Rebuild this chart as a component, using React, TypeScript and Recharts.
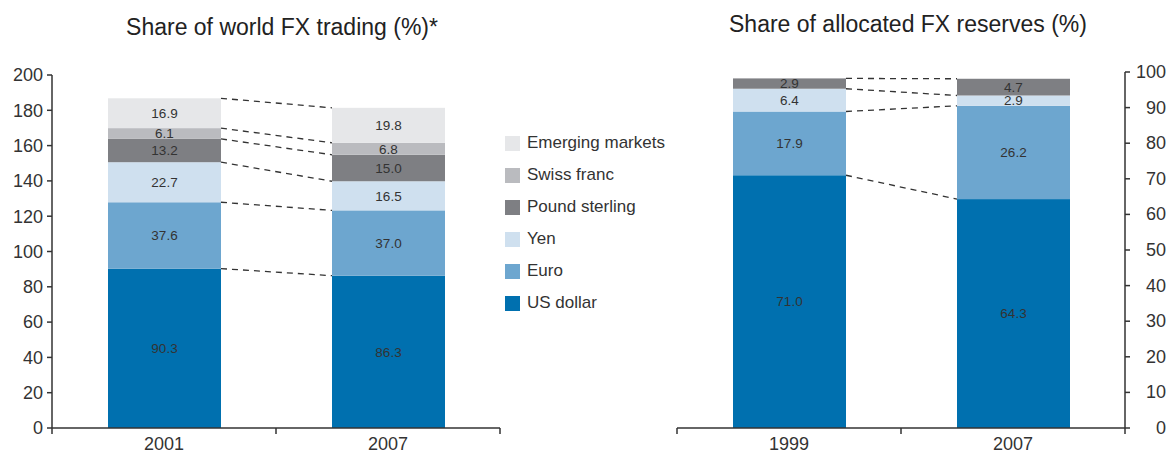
import { Bar, BarChart, LabelList, XAxis, YAxis } from "recharts"

// share of world FX trading, sums to 200 (two currencies per trade)
const tradingYears = ["2001", "2007"]
const tradingUsd = [90.3, 86.3]
const tradingEuro = [37.6, 37.0]
const tradingYen = [22.7, 16.5]
const tradingPound = [13.2, 15.0]
const tradingSwiss = [6.1, 6.8]
const tradingEmerging = [16.9, 19.8]

// share of allocated FX reserves
const reserveYears = ["1999", "2007"]
const reserveUsd = [71.0, 64.3]
const reserveEuro = [17.9, 26.2]
const reserveYen = [6.4, 2.9]
const reservePound = [2.9, 4.7]

const tradingTicks = [0, 20, 40, 60, 80, 100, 120, 140, 160, 180, 200]
const reserveTicks = [0, 10, 20, 30, 40, 50, 60, 70, 80, 90, 100]

const series = [
  { key: "usd", name: "US dollar", color: "#0070af" },
  { key: "euro", name: "Euro", color: "#6da6cf" },
  { key: "yen", name: "Yen", color: "#cfe0ef" },
  { key: "pound", name: "Pound sterling", color: "#7e7f83" },
  { key: "swiss", name: "Swiss franc", color: "#babbbf" },
  { key: "emerging", name: "Emerging markets", color: "#e6e7e9" },
]

const tradingData = tradingYears.map((year, i) => ({
  year,
  usd: tradingUsd[i],
  euro: tradingEuro[i],
  yen: tradingYen[i],
  pound: tradingPound[i],
  swiss: tradingSwiss[i],
  emerging: tradingEmerging[i],
}))

const reserveData = reserveYears.map((year, i) => ({
  year,
  usd: reserveUsd[i],
  euro: reserveEuro[i],
  yen: reserveYen[i],
  pound: reservePound[i],
}))

const FONT = "'Liberation Sans', Arial, sans-serif"
const INK = "#333333"

type Top = { x: number; y: number; width: number }

// remembers the first bar's segment top so the second bar can draw the connector
function makeSegment(store: Record<string, Top>, key: string, color: string) {
  return (props: any) => {
    const { x, y, width, height, index } = props
    if (index === 0) store[key] = { x, y, width }
    const prev = store[key]
    return (
      <g>
        <rect x={x} y={y} width={width} height={height} fill={color} />
        {index === 1 && prev && (
          <line
            x1={prev.x + prev.width}
            y1={prev.y}
            x2={x}
            y2={y}
            stroke={INK}
            strokeWidth={1.3}
            strokeDasharray="6 5"
          />
        )}
      </g>
    )
  }
}

function YearTick(props: any) {
  const { x, y, payload, index, visibleTicksCount } = props
  const half = payload?.offset ?? 0
  const last = index === (visibleTicksCount ?? 2) - 1
  return (
    <g>
      <line x1={x - half} x2={x - half} y1={y} y2={y + 6} stroke={INK} strokeWidth={1.5} />
      {last && <line x1={x + half} x2={x + half} y1={y} y2={y + 6} stroke={INK} strokeWidth={1.5} />}
      <text x={x} y={y + 22} textAnchor="middle" fontSize={18} fill={INK} fontFamily={FONT}>
        {payload.value}
      </text>
    </g>
  )
}

function RightTick(props: any) {
  const { x, y, payload } = props
  return (
    <text x={x + 36} y={y + 6} textAnchor="end" fontSize={18} fill={INK} fontFamily={FONT}>
      {payload.value}
    </text>
  )
}

function LegendList() {
  return (
    <div style={{ fontFamily: FONT, fontSize: 17, color: INK }}>
      {[...series].reverse().map((s) => (
        <div key={s.key} style={{ display: "flex", alignItems: "center", height: 32 }}>
          <span style={{ width: 15, height: 15, background: s.color, marginRight: 7 }} />
          <span>{s.name}</span>
        </div>
      ))}
    </div>
  )
}

const valueLabel = (v: any) => Number(v).toFixed(1)

const tradingTops: Record<string, Top> = {}
const reserveTops: Record<string, Top> = {}

export default function App() {
  return (
    <div style={{ position: "absolute", left: 0, top: 0, width: 1170, height: 456, background: "#fff", fontFamily: FONT }}>
      <div style={{ position: "absolute", left: 82, width: 400, top: 14, textAlign: "center", fontSize: 23, color: "#222" }}>
        Share of world FX trading (%)*
      </div>
      <div style={{ position: "absolute", left: 708, width: 400, top: 11, textAlign: "center", fontSize: 23, color: "#222" }}>
        Share of allocated FX reserves (%)
      </div>

      <div style={{ position: "absolute", left: 505, top: 127, width: 175 }}>
        <LegendList />
      </div>

      <div style={{ position: "absolute", left: 0, top: 0 }}>
        <BarChart width={510} height={456} data={tradingData} margin={{ top: 75, right: 10, bottom: 0, left: 0 }}>
          <XAxis
            dataKey="year"
            height={28}
            axisLine={{ stroke: INK, strokeWidth: 1.5 }}
            tickLine={false}
            tickSize={0}
            tickMargin={0}
            tick={<YearTick />}
            interval={0}
          />
          <YAxis
            width={52}
            domain={[0, 200]}
            ticks={tradingTicks}
            axisLine={{ stroke: INK, strokeWidth: 1.5 }}
            tickLine={{ stroke: INK, strokeWidth: 1.5 }}
            tickSize={5}
            tickMargin={4}
            tick={{ fontSize: 18, fill: INK, fontFamily: FONT }}
          />
          {series.map((s) => (
            <Bar
              key={s.key}
              dataKey={s.key}
              name={s.name}
              stackId="a"
              fill={s.color}
              barSize={113}
              isAnimationActive={false}
              shape={makeSegment(tradingTops, s.key, s.color)}
            >
              <LabelList dataKey={s.key} position="center" formatter={valueLabel} fontSize={13.5} fill={INK} fontFamily={FONT} />
            </Bar>
          ))}
        </BarChart>
      </div>

      <div style={{ position: "absolute", left: 667, top: 0 }}>
        <BarChart width={503} height={456} data={reserveData} margin={{ top: 72, right: 0, bottom: 0, left: 10 }}>
          <XAxis
            dataKey="year"
            height={28}
            axisLine={{ stroke: INK, strokeWidth: 1.5 }}
            tickLine={false}
            tickSize={0}
            tickMargin={0}
            tick={<YearTick />}
            interval={0}
          />
          <YAxis
            orientation="right"
            width={45}
            domain={[0, 100]}
            ticks={reserveTicks}
            axisLine={{ stroke: INK, strokeWidth: 1.5 }}
            tickLine={{ stroke: INK, strokeWidth: 1.5 }}
            tickSize={5}
            tickMargin={0}
            tick={<RightTick />}
          />
          {series.slice(0, 4).map((s) => (
            <Bar
              key={s.key}
              dataKey={s.key}
              name={s.name}
              stackId="a"
              fill={s.color}
              barSize={113}
              isAnimationActive={false}
              shape={makeSegment(reserveTops, s.key, s.color)}
            >
              <LabelList dataKey={s.key} position="center" formatter={valueLabel} fontSize={13.5} fill={INK} fontFamily={FONT} />
            </Bar>
          ))}
        </BarChart>
      </div>
    </div>
  )
}
